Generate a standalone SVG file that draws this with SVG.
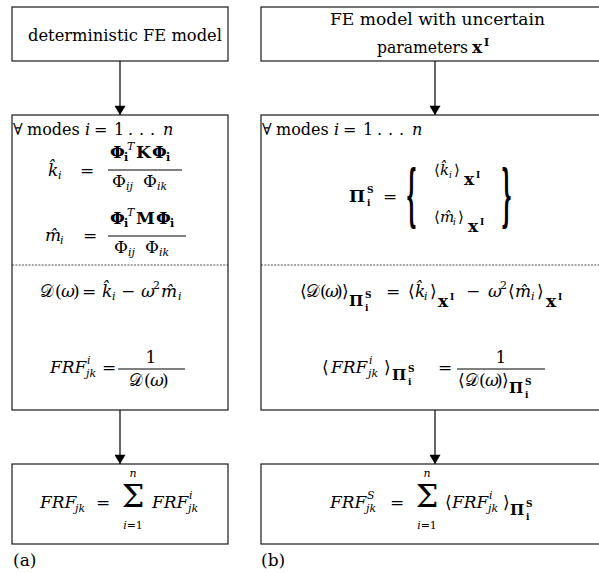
<svg xmlns="http://www.w3.org/2000/svg" width="599" height="573" viewBox="0 0 599 573">
  <style>
    .box { fill: #fff; stroke: #1a1a1a; stroke-width: 1.2; }
    .dash { stroke: #222; stroke-width: 0.8; stroke-dasharray: 2 1.3; fill: none; }
    .bar { stroke: #000; stroke-width: 1; }
    .wire { stroke: #000; stroke-width: 1.2; fill: none; }
    text { font-family: 'DejaVu Serif', serif; fill: #000; }
    .t { font-size: 17px; }
    .h { font-size: 16px; }
    .m { font-style: italic; }
    .b { font-weight: bold; }
    .s { font-size: 11px; }
    .xs { font-size: 9px; }
    .k { font-size: 15px; }
    .sig { font-size: 32px; }
    .cap { font-size: 17px; }
  </style>
  <defs>
    <marker id="arrow" viewBox="0 0 10 12" refX="10" refY="6" markerWidth="12" markerHeight="11" markerUnits="userSpaceOnUse" orient="auto">
      <path d="M0,0 L10,6 L0,12 Z" fill="#000"/>
    </marker>
  </defs>

  <!-- connectors -->
  <g id="connectors">
    <line class="wire" x1="120" y1="61" x2="120" y2="115" marker-end="url(#arrow)"/>
    <line class="wire" x1="120" y1="410" x2="120" y2="464" marker-end="url(#arrow)"/>
    <line class="wire" x1="435" y1="61" x2="435" y2="115" marker-end="url(#arrow)"/>
    <line class="wire" x1="435" y1="410" x2="435" y2="464" marker-end="url(#arrow)"/>
  </g>

  <!-- (a) deterministic chain -->
  <g id="det-model">
    <rect class="box" x="12" y="7" width="216" height="54"/>
    <text class="t" x="28" y="41" textLength="194" lengthAdjust="spacingAndGlyphs">deterministic FE model</text>
  </g>

  <g id="det-modes">
    <rect class="box" x="12" y="115" width="216" height="295"/>
    <line class="dash" x1="12" y1="265" x2="228" y2="265"/>
    <text class="h" y="135"><tspan x="13">∀</tspan><tspan x="27">modes</tspan><tspan class="m" x="85">i</tspan><tspan x="94">=</tspan><tspan x="114">1</tspan><tspan x="128">.</tspan><tspan x="139">.</tspan><tspan x="150">.</tspan><tspan class="m" x="163">n</tspan></text>
    <!-- modal stiffness -->
    <text class="t"><tspan class="m" x="48" y="176">k̂</tspan><tspan class="s m" x="58" y="179">i</tspan><tspan x="80" y="176">=</tspan></text>
    <text class="t b"><tspan x="110" y="158">Φ</tspan><tspan class="s" x="124" y="161">i</tspan><tspan class="s m" font-weight="normal" x="127" y="150">T</tspan><tspan x="136" y="158">K</tspan><tspan x="152" y="158">Φ</tspan><tspan class="s" x="166" y="161">i</tspan></text>
    <line class="bar" x1="108" y1="170" x2="182" y2="170"/>
    <text class="t"><tspan x="112" y="187">Φ</tspan><tspan class="s m" x="126" y="190">ij</tspan><tspan x="143" y="187">Φ</tspan><tspan class="s m" x="157" y="190">ik</tspan></text>
    <!-- modal mass -->
    <text class="t"><tspan class="m" x="45" y="241">m̂</tspan><tspan class="s m" x="60" y="244">i</tspan><tspan x="83" y="241">=</tspan></text>
    <text class="t b"><tspan x="110" y="224">Φ</tspan><tspan class="s" x="124" y="227">i</tspan><tspan class="s m" font-weight="normal" x="127" y="216">T</tspan><tspan x="136" y="224">M</tspan><tspan x="156" y="224">Φ</tspan><tspan class="s" x="170" y="227">i</tspan></text>
    <line class="bar" x1="108" y1="236" x2="186" y2="236"/>
    <text class="t"><tspan x="114" y="253">Φ</tspan><tspan class="s m" x="128" y="256">ij</tspan><tspan x="145" y="253">Φ</tspan><tspan class="s m" x="159" y="256">ik</tspan></text>
    <!-- dynamic stiffness and FRF -->
    <text class="t" y="297"><tspan x="40">𝒟</tspan><tspan x="55">(</tspan><tspan class="m" x="61">ω</tspan><tspan x="73">)</tspan><tspan x="82">=</tspan><tspan class="m" x="102">k̂</tspan><tspan class="s m" x="112" y="300">i</tspan><tspan x="121" y="297">−</tspan><tspan class="m" x="141">ω</tspan><tspan class="s" x="153" y="289">2</tspan><tspan class="m" x="161" y="297">m̂</tspan><tspan class="s m" x="178" y="300">i</tspan></text>
    <text class="t"><tspan class="m" x="50" y="373">FRF</tspan><tspan class="s m" x="87" y="364">i</tspan><tspan class="s m" x="86" y="377">jk</tspan><tspan x="102" y="373">=</tspan></text>
    <text class="t" x="151" y="363" text-anchor="middle">1</text>
    <line class="bar" x1="118" y1="369" x2="185" y2="369"/>
    <text class="t" y="386"><tspan x="129">𝒟</tspan><tspan x="144">(</tspan><tspan class="m" x="150">ω</tspan><tspan x="162">)</tspan></text>
  </g>

  <g id="det-sum">
    <rect class="box" x="12" y="464" width="216" height="80"/>
    <text class="t"><tspan class="m" x="40" y="508">FRF</tspan><tspan class="s m" x="75" y="512">jk</tspan><tspan x="96" y="508">=</tspan></text>
    <text class="sig" x="133" y="507" text-anchor="middle">Σ</text>
    <text class="s m" x="133" y="477" text-anchor="middle">n</text>
    <text class="s" x="133" y="529" text-anchor="middle"><tspan class="m">i</tspan>=1</text>
    <text class="t"><tspan class="m" x="152" y="508">FRF</tspan><tspan class="s m" x="189" y="499">i</tspan><tspan class="s m" x="188" y="512">jk</tspan></text>
  </g>

  <text class="cap" x="13" y="566">(a)</text>

  <!-- (b) interval chain -->
  <g id="int-model">
    <rect class="box" x="261" y="7" width="350" height="54"/>
    <text class="t" x="330" y="25" textLength="215" lengthAdjust="spacingAndGlyphs">FE model with uncertain</text>
    <text class="t" x="377" y="53" textLength="91" lengthAdjust="spacingAndGlyphs">parameters</text>
    <text class="t b"><tspan x="472" y="53">x</tspan><tspan class="s" x="484" y="46">I</tspan></text>
  </g>

  <g id="int-modes">
    <rect class="box" x="261" y="115" width="350" height="295"/>
    <line class="dash" x1="261" y1="265" x2="611" y2="265"/>
    <text class="h" y="135"><tspan x="262">∀</tspan><tspan x="276">modes</tspan><tspan class="m" x="334">i</tspan><tspan x="343">=</tspan><tspan x="363">1</tspan><tspan x="377">.</tspan><tspan x="388">.</tspan><tspan x="399">.</tspan><tspan class="m" x="412">n</tspan></text>
    <!-- interval modal parameters -->
    <text class="t b"><tspan x="349" y="202">Π</tspan><tspan class="xs" x="367" y="193">S</tspan><tspan class="xs" x="367" y="206">i</tspan><tspan font-weight="normal" x="383" y="202">=</tspan></text>
    <text class="t b" transform="translate(406,0) scale(1,4)" y="54.5" font-size="22">{</text>
    <text class="t b" transform="translate(501,0) scale(1,4)" y="54.5" font-size="22">}</text>
    <text class="k"><tspan x="434" y="175">⟨</tspan><tspan class="m" x="440">k̂</tspan><tspan class="xs m" x="449" y="178">i</tspan><tspan x="454" y="175">⟩</tspan><tspan class="t b" x="464" y="185">x</tspan><tspan class="b xs" x="476" y="178">I</tspan></text>
    <text class="k"><tspan x="434" y="222">⟨</tspan><tspan class="m" x="440">m̂</tspan><tspan class="xs m" x="453" y="225">i</tspan><tspan x="458" y="222">⟩</tspan><tspan class="t b" x="468" y="232">x</tspan><tspan class="b xs" x="480" y="225">I</tspan></text>
    <!-- interval dynamic stiffness -->
    <text class="t" y="297"><tspan x="300">⟨</tspan><tspan x="306">𝒟</tspan><tspan x="320">(</tspan><tspan class="m" x="325">ω</tspan><tspan x="336">)</tspan><tspan x="342">⟩</tspan><tspan class="b" font-size="15" x="349" y="306">Π</tspan><tspan class="b xs" x="365" y="298">S</tspan><tspan class="b xs" x="365" y="311">i</tspan><tspan x="386" y="297">=</tspan><tspan x="408">⟨</tspan><tspan class="m" x="415">k̂</tspan><tspan class="s m" x="424" y="300">i</tspan><tspan x="430" y="297">⟩</tspan><tspan class="b" x="438" y="307">x</tspan><tspan class="b xs" x="450" y="300">I</tspan><tspan x="466" y="297">−</tspan><tspan class="m" x="488">ω</tspan><tspan class="s" x="500" y="289">2</tspan><tspan x="508" y="297">⟨</tspan><tspan class="m" x="515">m̂</tspan><tspan class="s m" x="531" y="300">i</tspan><tspan x="537" y="297">⟩</tspan><tspan class="b" x="546" y="307">x</tspan><tspan class="b xs" x="558" y="300">I</tspan></text>
    <!-- interval FRF -->
    <text class="t"><tspan x="322" y="373">⟨</tspan><tspan class="m" x="331">FRF</tspan><tspan class="s m" x="369" y="364">i</tspan><tspan class="s m" x="368" y="377">jk</tspan><tspan x="384" y="373">⟩</tspan><tspan class="b" font-size="15" x="392" y="380">Π</tspan><tspan class="b xs" x="408" y="372">S</tspan><tspan class="b xs" x="408" y="385">i</tspan><tspan x="438" y="373">=</tspan></text>
    <text class="t" x="501" y="363" text-anchor="middle">1</text>
    <line class="bar" x1="457" y1="369" x2="545" y2="369"/>
    <text class="t" y="386"><tspan x="458">⟨</tspan><tspan x="465">𝒟</tspan><tspan x="479">(</tspan><tspan class="m" x="485">ω</tspan><tspan x="496">)</tspan><tspan x="502">⟩</tspan><tspan class="b" font-size="15" x="509" y="393">Π</tspan><tspan class="b xs" x="525" y="385">S</tspan><tspan class="b xs" x="525" y="398">i</tspan></text>
  </g>

  <g id="int-sum">
    <rect class="box" x="261" y="464" width="350" height="80"/>
    <text class="t"><tspan class="m" x="330" y="508">FRF</tspan><tspan class="s m" x="367" y="499">S</tspan><tspan class="s m" x="366" y="512">jk</tspan><tspan x="390" y="508">=</tspan></text>
    <text class="sig" x="427" y="507" text-anchor="middle">Σ</text>
    <text class="s m" x="427" y="477" text-anchor="middle">n</text>
    <text class="s" x="427" y="529" text-anchor="middle"><tspan class="m">i</tspan>=1</text>
    <text class="t"><tspan x="445" y="508">⟨</tspan><tspan class="m" x="452">FRF</tspan><tspan class="s m" x="489" y="499">i</tspan><tspan class="s m" x="488" y="512">jk</tspan><tspan x="503" y="508">⟩</tspan><tspan class="b" font-size="15" x="510" y="515">Π</tspan><tspan class="b xs" x="526" y="507">S</tspan><tspan class="b xs" x="526" y="520">i</tspan></text>
  </g>

  <text class="cap" x="261" y="566">(b)</text>
</svg>
